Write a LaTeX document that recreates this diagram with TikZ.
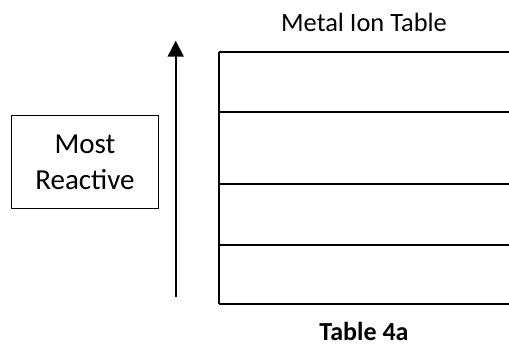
\documentclass[tikz,border=0pt]{standalone}
\usepackage{fontspec}
\setmainfont{Carlito}
\usetikzlibrary{arrows.meta}
\tikzset{
  px/.style={x=0.75pt,y=-0.75pt},
  tline/.style={line width=1.5pt},
  lbl/.style={inner sep=0pt,anchor=base},
}
\begin{document}
\begin{tikzpicture}[px]
\useasboundingbox (0,0) rectangle (509,346);
\clip (-1,-1) rectangle (509,347);
% title
\node[lbl,font=\fontsize{19.8pt}{24pt}\selectfont] (title) at (364,31.7) {Metal Ion Table};
% caption
\node[lbl,font=\bfseries\fontsize{19.5pt}{24pt}\selectfont] (caption) at (364,340.5) {Table 4a};
% box
\node[draw,line width=0.9pt,minimum width=146.6*0.75pt,minimum height=93*0.75pt,inner sep=0pt,align=center,
      font=\fontsize{21.75pt}{26.5pt}\selectfont] (box) at (85,162.2) {Most\\Reactive};
% arrow
\coordinate (abot) at (175.7,296.7);
\coordinate (atop) at (175.7,40.7);
\draw[line width=1.5pt,-{Triangle[width=12pt,length=12pt]}] (abot) -- (atop);
% table
\coordinate (t0) at (218.7,51.7);
\coordinate (t1) at (218.7,111.7);
\coordinate (t2) at (218.7,183.7);
\coordinate (t3) at (218.7,245);
\coordinate (t4) at (218.7,304);
\draw[tline] (t0) -- ++(300,0);
\draw[tline] (t1) -- ++(300,0);
\draw[tline] (t2) -- ++(300,0);
\draw[tline] (t3) -- ++(300,0);
\draw[tline] (t4) -- ++(300,0);
\draw[tline] (t0) -- (t4);
\end{tikzpicture}
\end{document}
